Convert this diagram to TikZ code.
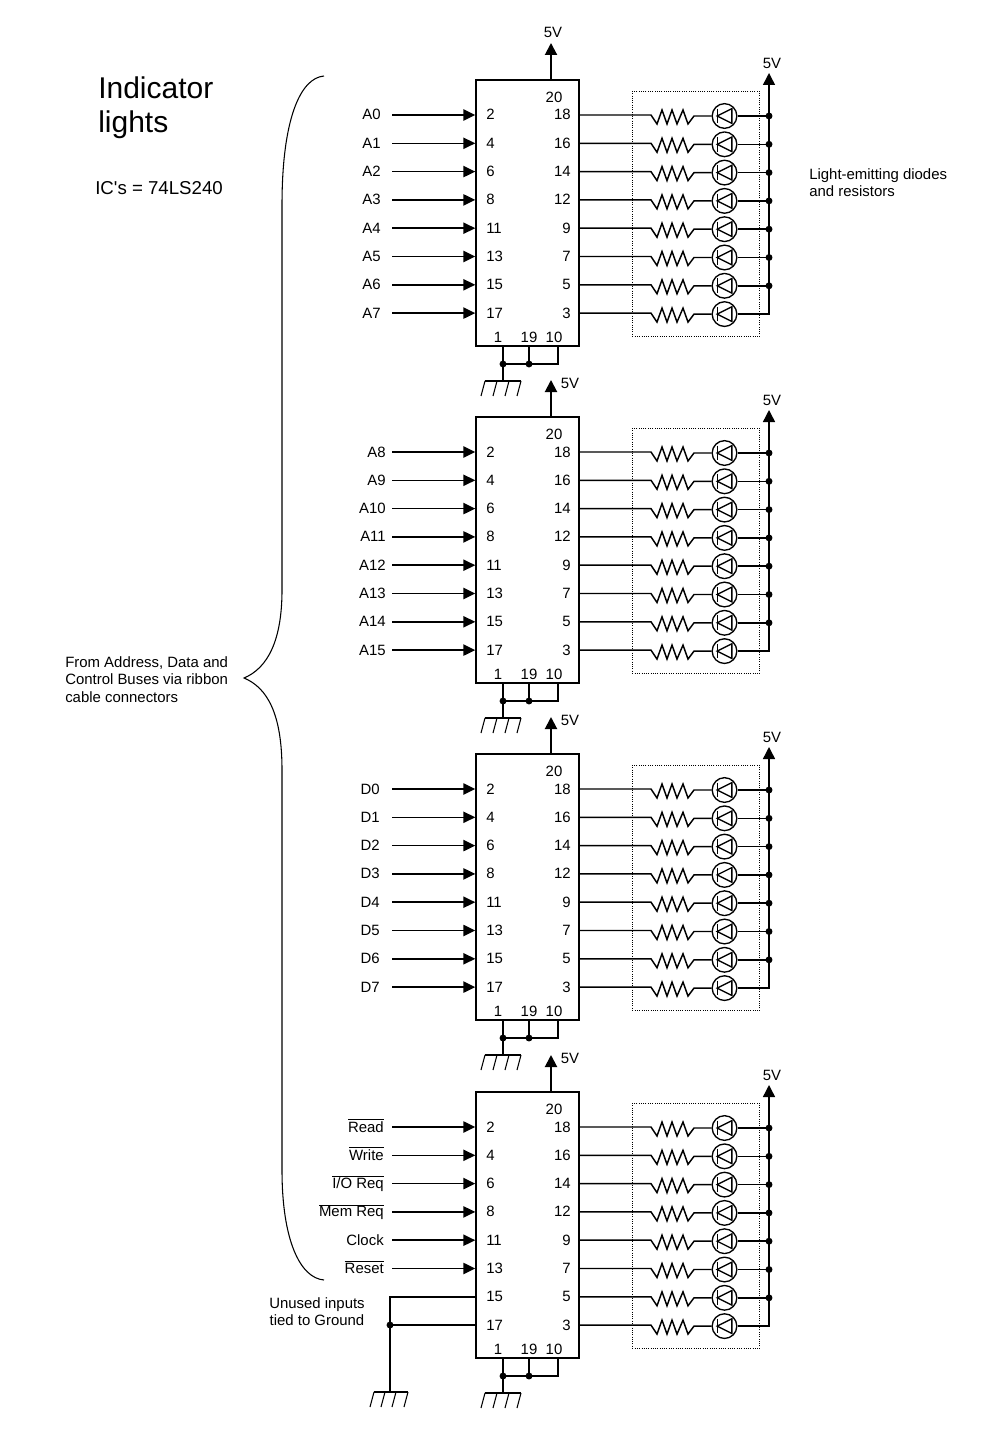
\documentclass[tikz,border=0pt]{standalone}
\usepackage{fontspec}
\setmainfont{Liberation Sans}
\usetikzlibrary{arrows.meta}
\newcommand{\barlab}[1]{$\overline{\mbox{#1}}$}
\tikzset{
    wire/.style={line width=1.1pt},
    inwire/.style={line width=1.1pt,-{Triangle[length=9pt,width=8.5pt]}},
    vcc/.style={line width=1.5pt,-{Triangle[length=9pt,width=9pt]}},
    rail/.style={line width=1.1pt,-{Triangle[length=9pt,width=9pt]}},
    chip/.style={draw,line width=1.1pt,minimum width=77.25pt,minimum height=199.5pt,inner sep=0pt},
    lab/.style={font=\fontsize{11.2}{12.9}\selectfont,inner sep=0pt},
    leadbox/.style={draw,densely dotted,line width=0.7pt},
    joint/.style={fill,circle,inner sep=0pt,minimum size=5.2pt},
    ledbulb/.style={draw,circle,line width=1pt,inner sep=0pt,minimum size=18.5pt,
        path picture={
            \draw[line width=1pt] ([xshift=-5.5pt]path picture bounding box.center) ++(0,5.5pt) -- ++(0,-11pt);
            \draw[line width=1pt] ([xshift=-5.5pt]path picture bounding box.center) -- ++(11pt,5.5pt) -- ++(0,-11pt) -- cycle;
        }},
}
\begin{document}
\begin{tikzpicture}[x=0.75pt,y=-0.75pt]
    \useasboundingbox (0,0) rectangle (1000,1444);

    % Titolo e note
    \node[font=\fontsize{22.5}{26}\selectfont,anchor=north west,align=left,inner sep=0pt] (title) at (98,76) {Indicator\\lights};
    \node[font=\fontsize{14}{16}\selectfont,anchor=west,inner sep=0pt] (icnote) at (95,188) {IC\textquotesingle s = 74LS240};
    \node[lab,anchor=west,align=left] (busnote) at (65,679.5) {From Address, Data and\\Control Buses via ribbon\\cable connectors};
    \node[lab,anchor=west,align=left] (ledsnote) at (809,183) {Light-emitting diodes\\and resistors};
    \node[lab,anchor=east,align=center] (unused) at (365,1312) {Unused inputs\\tied to Ground};

    % Graffa
    \draw[line width=0.8pt] (324,76) .. controls (300,78) and (282,120) .. (282,205) -- (282,590)
        .. controls (282,640) and (268,668) .. (244,678) .. controls (268,688) and (282,715) .. (282,770)
        -- (282,1170) .. controls (282,1240) and (300,1278) .. (324,1280);

    \foreach \b/\dy/\lx/\vx/\vy/\labs in {
        1/0/381/553/32/{A0,A1,A2,A3,A4,A5,A6,A7},
        2/337/386/570/46/{A8,A9,A10,A11,A12,A13,A14,A15},
        3/674/380/570/46/{D0,D1,D2,D3,D4,D5,D6,D7},
        4/1012/384/570/46/{\barlab{Read},\barlab{Write},\barlab{I/O Req},\barlab{Mem Req},Clock,\barlab{Reset}}} {

        % Integrato
        \node[chip] (ic\b) at (527.5,213+\dy) {};
        \node[lab] (p20\b) at (554,97+\dy) {20};
        \node[lab] (p1\b) at (498,337+\dy) {1};
        \node[lab] (p19\b) at (529,337+\dy) {19};
        \node[lab] (p10\b) at (554,337+\dy) {10};

        % Alimentazione
        \coordinate (vtop\b) at (551,43+\dy);
        \draw[vcc] (vtop\b |- ic\b.north) -- (vtop\b);
        \node[lab] (vlab\b) at (\vx,\vy+\dy) {5V};

        % Massa
        \coordinate (gnd\b) at (503,381+\dy);
        \coordinate (jn\b) at (503,364+\dy);
        \coordinate (jm\b) at (529,364+\dy);
        \coordinate (je\b) at (558,364+\dy);
        \draw[wire] (gnd\b |- ic\b.south) -- (gnd\b);
        \draw[wire] (jm\b |- ic\b.south) -- (jm\b);
        \draw[wire] (je\b |- ic\b.south) -- (je\b) -- (jn\b);
        \node[joint] (jna\b) at (jn\b) {};
        \node[joint] (jma\b) at (jm\b) {};
        \draw[wire] (gnd\b) ++(-18,0) -- ++(36,0);
        \foreach \h in {-18,-6,6,18}
            \draw[line width=0.8pt] (gnd\b) ++(\h,0) -- ++(-4,15);

        % Riquadro dei LED e linea a 5V
        \node[leadbox,anchor=north west,minimum width=95.25pt,minimum height=183.75pt,inner sep=0pt] (box\b) at (632,91+\dy) {};
        \coordinate (rtop\b) at (769,73+\dy);
        \node[lab] (rlab\b) at (772,63+\dy) {5V};

        % Ingressi
        \foreach \txt [count=\i] in \labs {
            \pgfmathsetmacro{\py}{\dy+115+28.3*(\i-1)}
            \node[lab,anchor=base east] (name\b-\i) at (\lx,\py+5) {\txt};
            \coordinate (src\b-\i) at (392,\py);
            \draw[inwire] (src\b-\i) -- (ic\b.west |- src\b-\i);
        }

        % Piedini e uscite
        \foreach \pin/\pout [count=\i] in {2/18,4/16,6/14,8/12,11/9,13/7,15/5,17/3} {
            \pgfmathsetmacro{\py}{\dy+115+28.3*(\i-1)}
            \node[lab,anchor=base west] (pin\b-\i) at (486,\py+5) {\pin};
            \node[lab,anchor=base east] (pout\b-\i) at (571,\py+5) {\pout};
            \coordinate (res\b-\i) at (651,\py);
            \node[ledbulb] (led\b-\i) at (724.5,\py+1) {};
            \draw[wire] (ic\b.east |- res\b-\i) -- (res\b-\i) -- ++(6,9) -- ++(5,-14) -- ++(5,14) -- ++(5,-14)
                -- ++(5,14) -- ++(6,-14) -- ++(5,14) -- ++(6,-8) -- (led\b-\i.west);
            \coordinate (tap\b-\i) at (rtop\b |- led\b-\i);
            \ifnum\i<8
                \draw[wire] (led\b-\i.east) -- (tap\b-\i);
                \node[joint] (dot\b-\i) at (tap\b-\i) {};
            \fi
        }
        \draw[rail] (led\b-8.east) -- (tap\b-8) -- (rtop\b);
    }

    % Ingressi non usati
    \coordinate (tie) at (390,1297);
    \coordinate (tieb) at (390,1325);
    \coordinate (gndx) at (390,1392);
    \draw[wire] (ic4.west |- tie) -- (tie) -- (gndx);
    \draw[wire] (ic4.west |- tieb) -- (tieb);
    \node[joint] (tiedot) at (tieb) {};
    \draw[wire] (gndx) ++(-16,0) -- ++(34,0);
    \foreach \h in {-16,-5,6,18}
        \draw[line width=0.8pt] (gndx) ++(\h,0) -- ++(-4,15);
\end{tikzpicture}
\end{document}
